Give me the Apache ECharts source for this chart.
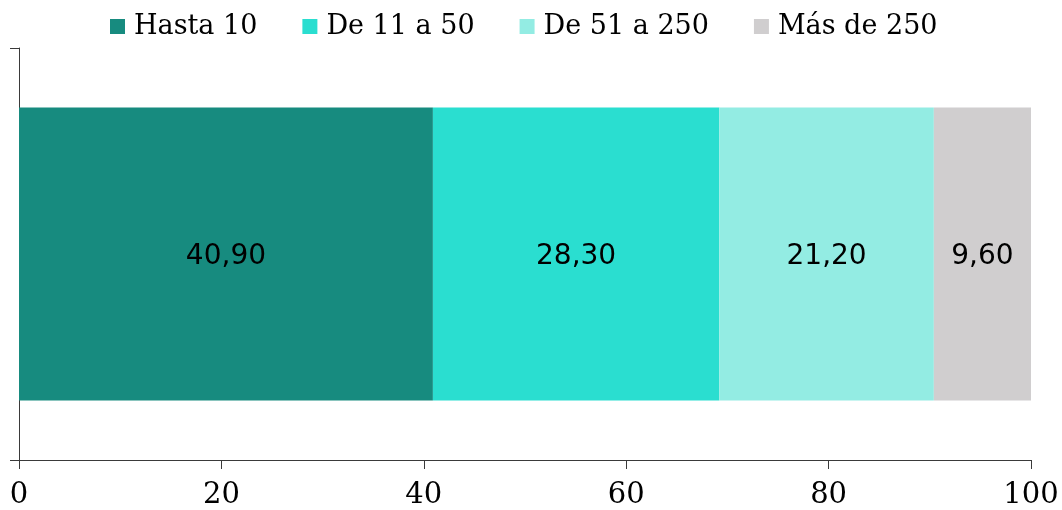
<!DOCTYPE html>
<html>
<head>
<meta charset="utf-8">
<script src="https://cdn.jsdelivr.net/npm/echarts@6/dist/echarts.min.js"></script>
<style>
  html, body { margin: 0; padding: 0; background: #ffffff; }
  #chart { width: 1062px; height: 510px; }
</style>
</head>
<body>
<div id="chart"></div>
<script>
// Share of firms by size (number of employees), percent
const categories = [''];
const seriesNames = ['Hasta 10', 'De 11 a 50', 'De 51 a 250', 'Más de 250'];
const hasta10 = [40.90];
const de11a50 = [28.30];
const de51a250 = [21.20];
const masDe250 = [9.60];
const xTicks = [0, 20, 40, 60, 80, 100];

const colors = ['#178B7F', '#2ADED0', '#93ECE3', '#D0CECF'];
const seriesData = [hasta10, de11a50, de51a250, masDe250];
const serif = 'DejaVu Serif';
const sans = 'DejaVu Sans';

const chart = echarts.init(document.getElementById('chart'));
chart.setOption({
  animation: false,
  color: colors,
  legend: {
    left: 110,
    top: 13,
    padding: 0,
    itemWidth: 15,
    itemHeight: 15,
    itemGap: 45,
    icon: 'rect',
    textStyle: { fontFamily: serif, fontSize: 27, color: '#000', padding: [0, 0, 0, 4] },
    data: seriesNames
  },
  grid: { left: 19, right: 31, top: 48, bottom: 47, containLabel: false },
  xAxis: {
    type: 'value',
    min: xTicks[0],
    max: xTicks[xTicks.length - 1],
    interval: 20,
    splitLine: { show: false },
    axisLine: { show: true, lineStyle: { color: '#3a3a3a', width: 1 } },
    axisTick: { show: true, length: 9, lineStyle: { color: '#3a3a3a' } },
    axisLabel: { fontFamily: serif, fontSize: 29, color: '#000', margin: 21 }
  },
  yAxis: {
    type: 'category',
    data: categories,
    axisLine: { show: true, lineStyle: { color: '#3a3a3a', width: 1 } },
    axisTick: { show: true, length: 9, lineStyle: { color: '#3a3a3a' } },
    axisLabel: { show: false }
  },
  series: seriesNames.map((name, i) => ({
    name: name,
    type: 'bar',
    stack: 'total',
    barWidth: 293,
    data: seriesData[i],
    label: {
      show: true,
      position: 'inside',
      offset: [0, 3],
      fontFamily: sans,
      fontSize: 28,
      color: '#000',
      formatter: p => p.value.toFixed(2).replace('.', ',')
    }
  }))
});
</script>
</body>
</html>
